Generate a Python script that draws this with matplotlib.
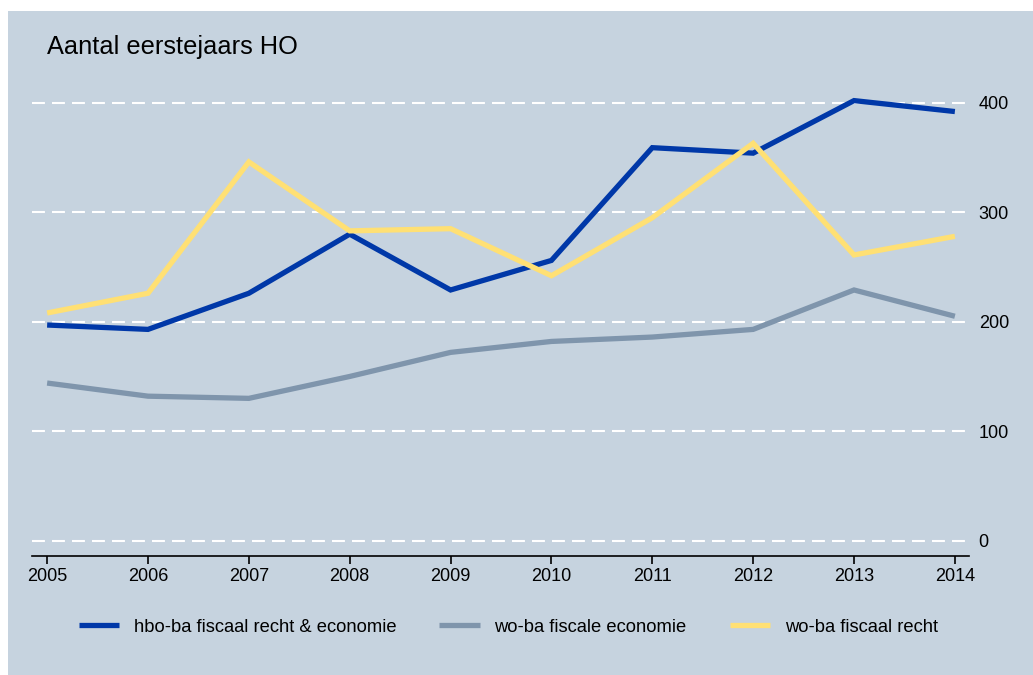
import matplotlib.pyplot as plt
from matplotlib.patches import Rectangle

plt.rcParams['font.family'] = ['Liberation Sans', 'DejaVu Sans']

years = [2005, 2006, 2007, 2008, 2009, 2010, 2011, 2012, 2013, 2014]
hbo_fiscaal = [197, 193, 226, 280, 229, 256, 359, 354, 402, 392]
wo_economie = [144, 132, 130, 150, 172, 182, 186, 193, 229, 205]
wo_recht = [208, 226, 346, 283, 285, 242, 295, 363, 261, 278]
labels = ['hbo-ba fiscaal recht & economie', 'wo-ba fiscale economie', 'wo-ba fiscaal recht']
colors = ['#0038A8', '#7F95AC', '#FFE074']
yticks = [0, 100, 200, 300, 400]

bg = '#C6D3DF'

fig = plt.figure(figsize=(10.33, 6.75), dpi=100)
fig.patch.set_facecolor('white')
fig.add_artist(Rectangle((8/1033, 0), 1 - 8/1033, 1 - 11/675,
                         transform=fig.transFigure, facecolor=bg,
                         edgecolor='none', zorder=-10))

ax = fig.add_axes([32/1033, 1 - 556/675, (969 - 32)/1033, (556 - 59)/675])
ax.set_facecolor('none')

for yv in yticks:
    ax.axhline(yv, color='white', lw=1.5, linestyle=(0, (6.2, 3.4)), zorder=1)

series = [hbo_fiscaal, wo_economie, wo_recht]
for vals, lab, c in zip(series, labels, colors):
    ax.plot(years, vals, color=c, lw=3.8, label=lab, zorder=3,
            solid_joinstyle='miter', solid_capstyle='butt')

ax.set_xlim(2004.85, 2014.14)
ax.set_ylim(-14, 440)
ax.set_xticks(years)
ax.set_xticklabels([str(y) for y in years], fontsize=13)
ax.set_yticks(yticks)
ax.set_yticklabels([str(y) for y in yticks], fontsize=13)
ax.yaxis.tick_right()
ax.tick_params(axis='y', length=0, pad=7)
ax.tick_params(axis='x', direction='out', length=5.5, width=1.2, pad=3)

for s in ['top', 'left', 'right']:
    ax.spines[s].set_visible(False)
ax.spines['bottom'].set_linewidth(1.2)

fig.text(47/1033, 1 - 47/675, 'Aantal eerstejaars HO', fontsize=18.3, va='center', ha='left')

fig.legend(loc='center left', bbox_to_anchor=(62/1033, 1 - 627/675), ncol=3,
           frameon=False, fontsize=13.2, handlelength=2.2, handletextpad=0.8,
           columnspacing=2.35)

plt.savefig('out.png', dpi=100)
